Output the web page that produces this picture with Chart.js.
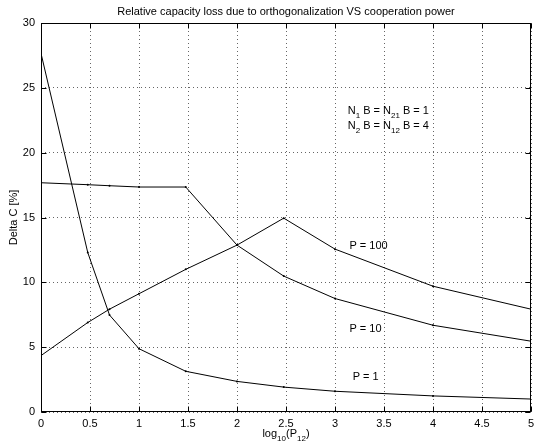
<!DOCTYPE html>
<html>
<head>
<meta charset="utf-8">
<script src="https://cdn.jsdelivr.net/npm/chart.js@4/dist/chart.umd.min.js"></script>
<style>
  body { margin: 0; background: #fff; }
  canvas { display: block; }
</style>
</head>
<body>
<canvas id="plot" width="535" height="445"></canvas>
<script>
// log10(P12) sample points: 1, 3, 5, 10, 30, 100, 300, 1e3, 1e4, 1e5
var xs = [0, 0.477, 0.699, 1, 1.477, 2, 2.477, 3, 4, 5];

// Delta C [%] for each total power P
var lossP1   = [27.66, 12.3, 7.48, 4.88, 3.14, 2.36, 1.92, 1.6, 1.24, 1.0];
var lossP10  = [17.68, 17.53, 17.45, 17.35, 17.35, 12.87, 10.48, 8.75, 6.69, 5.46];
var lossP100 = [4.35, 6.9, 7.93, 9.12, 11.0, 12.87, 14.95, 12.56, 9.7, 7.93];

var xTicks = [0, 0.5, 1, 1.5, 2, 2.5, 3, 3.5, 4, 4.5, 5];
var yTicks = [0, 5, 10, 15, 20, 25, 30];

var title = 'Relative capacity loss due to orthogonalization VS cooperation power';

// text notes, anchored in data coordinates (left edge, vertical middle)
var notes = [
    {x: 3.147, y: 12.8, parts: [['P = 100', 0]]},
    {x: 3.147, y: 6.39, parts: [['P = 10', 0]]},
    {x: 3.18, y: 2.7, parts: [['P = 1', 0]]},
    {x: 3.13, y: 23.2, parts: [['N', 0], ['1', 1], [' B = N', 0], ['21', 1], [' B = 1', 0]]},
    {x: 3.13, y: 22.05, parts: [['N', 0], ['2', 1], [' B = N', 0], ['12', 1], [' B = 4', 0]]}
];

var FONT = 'Liberation Sans, Arial, Helvetica, sans-serif';

function toPoints(vals) {
    return vals.map(function(v, i) { return {x: xs[i], y: v}; });
}

function series(vals) {
    return {
        data: toPoints(vals),
        borderColor: '#000',
        borderWidth: 1,
        pointRadius: 1,
        pointBackgroundColor: '#000',
        pointBorderWidth: 0,
        tension: 0,
        fill: false
    };
}

// draws text made of normal / subscript pieces, starting at x
function drawParts(ctx, parts, x, y, size) {
    ctx.textAlign = 'left';
    ctx.textBaseline = 'middle';
    parts.forEach(function(p) {
        if (p[1]) {
            ctx.font = (size - 3) + 'px ' + FONT;
            ctx.fillText(p[0], x, y + 5);
        } else {
            ctx.font = size + 'px ' + FONT;
            ctx.fillText(p[0], x, y);
        }
        x += ctx.measureText(p[0]).width;
    });
}

function partsWidth(ctx, parts, size) {
    var w = 0;
    parts.forEach(function(p) {
        ctx.font = (p[1] ? size - 3 : size) + 'px ' + FONT;
        w += ctx.measureText(p[0]).width;
    });
    return w;
}

var matlabFrame = {
    id: 'matlabFrame',
    afterDraw: function(chart) {
        var ctx = chart.ctx;
        var a = chart.chartArea;
        var xs_ = chart.scales.x, ys_ = chart.scales.y;
        var L = Math.round(a.left) + 0.5, R = Math.round(a.right) - 0.5;
        var T = Math.round(a.top) + 0.5, B = Math.round(a.bottom) - 0.5;
        ctx.save();
        ctx.strokeStyle = '#000';
        ctx.lineWidth = 1;
        ctx.strokeRect(L, T, R - L, B - T);

        // inward ticks
        var tl = 5;
        ctx.beginPath();
        xTicks.forEach(function(t) {
            var px = Math.round(xs_.getPixelForValue(t)) + 0.5;
            ctx.moveTo(px, B); ctx.lineTo(px, B - tl);
            ctx.moveTo(px, T); ctx.lineTo(px, T + tl);
        });
        yTicks.forEach(function(t) {
            var py = Math.round(ys_.getPixelForValue(t)) + 0.5;
            ctx.moveTo(L, py); ctx.lineTo(L + tl, py);
            ctx.moveTo(R, py); ctx.lineTo(R - tl, py);
        });
        ctx.stroke();

        ctx.fillStyle = '#000';
        var cx = (a.left + a.right) / 2;

        // title, centred over the axes box
        ctx.font = '11px ' + FONT;
        ctx.textAlign = 'center';
        ctx.textBaseline = 'middle';
        ctx.fillText(title, cx, 11.5);

        notes.forEach(function(n) {
            drawParts(ctx, n.parts, xs_.getPixelForValue(n.x), ys_.getPixelForValue(n.y), 11);
        });

        // x axis label: log10(P12)
        var xl = [['log', 0], ['10', 1], ['(P', 0], ['12', 1], [')', 0]];
        drawParts(ctx, xl, cx - partsWidth(ctx, xl, 11) / 2, 434, 11);

        // y axis label
        ctx.translate(14, (a.top + a.bottom) / 2);
        ctx.rotate(-Math.PI / 2);
        ctx.font = '11px ' + FONT;
        ctx.textAlign = 'center';
        ctx.textBaseline = 'middle';
        ctx.fillText('Delta C [%]', 0, 0);
        ctx.restore();
    }
};

new Chart(document.getElementById('plot'), {
    type: 'line',
    data: {
        datasets: [series(lossP1), series(lossP10), series(lossP100)]
    },
    options: {
        responsive: false,
        animation: false,
        layout: { padding: { right: 1, left: 0, top: 23, bottom: 0 } },
        plugins: {
            legend: { display: false },
            tooltip: { enabled: false },
            title: { display: false }
        },
        scales: {
            x: {
                type: 'linear',
                min: 0, max: 5,
                afterBuildTicks: function(s) { s.ticks = xTicks.map(function(v) { return {value: v}; }); },
                afterFit: function(s) { s.height = 33; s.paddingLeft = 0; s.paddingRight = 0; },
                ticks: {
                    color: '#000', padding: 5, maxRotation: 0, autoSkip: false,
                    font: { family: FONT, size: 11 },
                    callback: function(v) { return String(v); }
                },
                grid: { color: '#666', drawTicks: false },
                border: { display: false, dash: [1, 3] }
            },
            y: {
                type: 'linear',
                min: 0, max: 30,
                afterBuildTicks: function(s) { s.ticks = yTicks.map(function(v) { return {value: v}; }); },
                afterFit: function(s) { s.width = 41; s.paddingTop = 0; s.paddingBottom = 0; },
                ticks: {
                    color: '#000', padding: 6,
                    font: { family: FONT, size: 11 },
                    callback: function(v) { return String(v); }
                },
                grid: { color: '#666', drawTicks: false },
                border: { display: false, dash: [1, 3] }
            }
        }
    },
    plugins: [matlabFrame]
});
</script>
</body>
</html>
